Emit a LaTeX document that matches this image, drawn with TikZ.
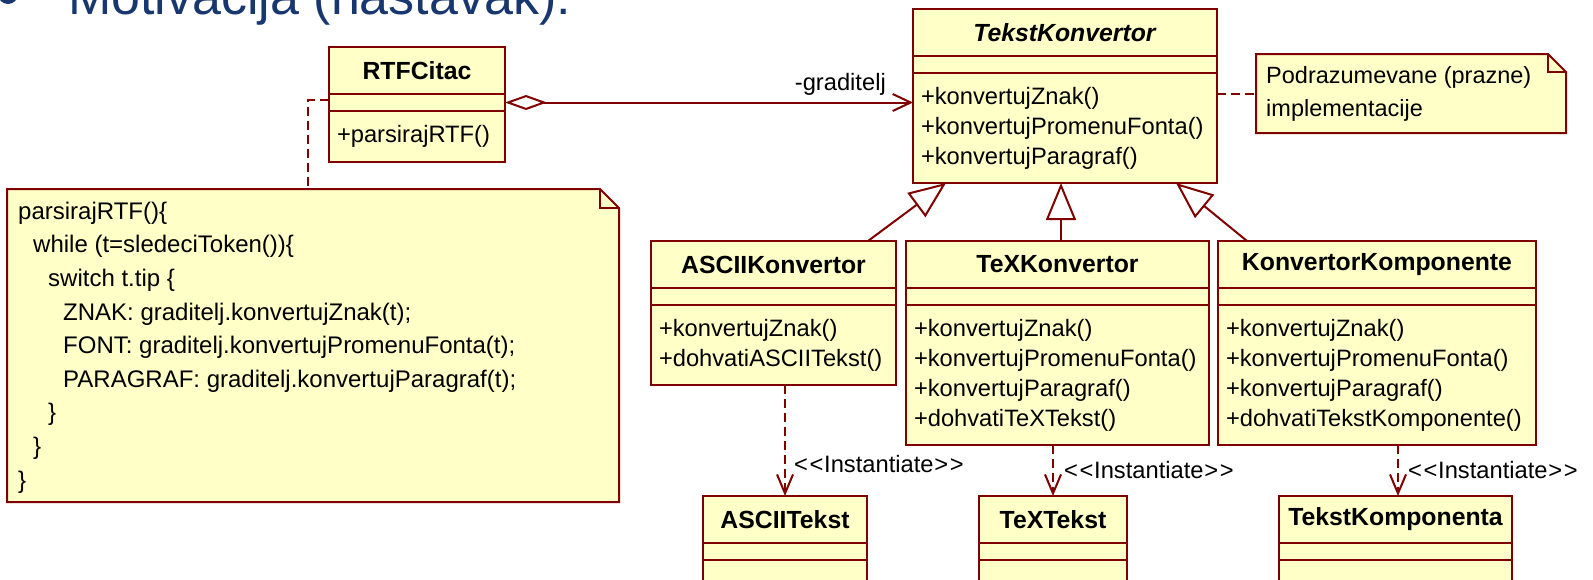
\documentclass[tikz,border=0pt]{standalone}
\usepackage{fontspec}
\setmainfont{Liberation Sans}
\usetikzlibrary{arrows.meta}
\definecolor{umlred}{RGB}{128,0,0}
\definecolor{umlfill}{RGB}{255,255,200}
\definecolor{titleblue}{RGB}{23,55,110}
\newcommand\umllt{\makebox[15.5pt][c]{<}}
\newcommand\umlgt{\makebox[15.5pt][c]{>}}
\tikzset{
  box/.style={draw=umlred, fill=umlfill, line width=2pt, outer sep=0pt, anchor=north west, inner sep=0pt},
  hdr/.style={box, minimum height=47pt, font=\fontsize{24.8}{30}\selectfont\bfseries},
  attr/.style={box, minimum height=17pt},
  meth/.style={box, font=\fontsize{23.7}{30}\selectfont, align=left, inner xsep=8pt, inner ysep=0pt},
  notebg/.style={inner sep=0pt, outer sep=0pt, anchor=north west},
  notetext/.style={align=left, font=\fontsize{24}{33.6}\selectfont},
  noteline/.style={draw=umlred, fill=umlfill, line width=2pt},
  lbl/.style={inner sep=0pt, font=\fontsize{23.7}{30}\selectfont},
  gen/.style={draw=umlred, line width=2pt, -{Triangle[open, length=37pt, width=30pt]}},
  assoc/.style={draw=umlred, line width=2pt, {Diamond[open, length=42pt, width=15pt]}-{Straight Barb[length=18pt, width=17pt]}},
  inst/.style={draw=umlred, line width=2pt, dash pattern=on 9pt off 5pt, -{Straight Barb[length=19pt, width=16pt]}},
  notelink/.style={draw=umlred, line width=2pt, dash pattern=on 9pt off 5pt},
}
\begin{document}
\begin{tikzpicture}[x=1pt,y=-1pt]
\useasboundingbox (0,0) rectangle (1593,579);
\clip (0,0) rectangle (1593,579);

% title (cut off at the top)
\node[circle, fill=titleblue, minimum size=20pt, inner sep=0pt] (bullet) at (8,-6) {};
\node[anchor=base west, inner sep=0pt, font=\fontsize{52}{60}\selectfont, text=titleblue] (title) at (68,14) {Motivacija (nastavak):};

% RTFCitac
\node[hdr, minimum width=176pt] (rc) at (329,47) {RTFCitac};
\node[attr, minimum width=176pt] (rc-a) at (rc.south west) {};
\node[meth, text width=160pt, minimum height=51pt] (rc-m) at (rc-a.south west) {+parsirajRTF()};

% TekstKonvertor
\node[hdr, minimum width=304pt] (tk) at (913,9) {\textit{TekstKonvertor}};
\node[attr, minimum width=304pt] (tk-a) at (tk.south west) {};
\node[meth, text width=288pt, minimum height=110pt] (tk-m) at (tk-a.south west) {+konvertujZnak()\\+konvertujPromenuFonta()\\+konvertujParagraf()};

% ASCIIKonvertor
\node[hdr, minimum width=245pt] (ak) at (651,241) {ASCIIKonvertor};
\node[attr, minimum width=245pt] (ak-a) at (ak.south west) {};
\node[meth, text width=229pt, minimum height=80pt] (ak-m) at (ak-a.south west) {+konvertujZnak()\\+dohvatiASCIITekst()};

% TeXKonvertor
\node[hdr, minimum width=303pt] (tx) at (906,241) {TeXKonvertor};
\node[attr, minimum width=303pt] (tx-a) at (tx.south west) {};
\node[meth, text width=287pt, minimum height=140pt] (tx-m) at (tx-a.south west) {+konvertujZnak()\\+konvertujPromenuFonta()\\+konvertujParagraf()\\+dohvatiTeXTekst()};

% KonvertorKomponente
\node[hdr, minimum width=318pt] (kk) at (1218,241) {KonvertorKomponente};
\node[attr, minimum width=318pt] (kk-a) at (kk.south west) {};
\node[meth, text width=302pt, minimum height=140pt] (kk-m) at (kk-a.south west) {+konvertujZnak()\\+konvertujPromenuFonta()\\+konvertujParagraf()\\+dohvatiTekstKomponente()};

% products
\node[hdr, minimum width=164pt] (at) at (703,496) {ASCIITekst};
\node[attr, minimum width=164pt] (at-a) at (at.south west) {};
\node[attr, minimum width=164pt, minimum height=40pt] (at-m) at (at-a.south west) {};

\node[hdr, minimum width=148pt] (tt) at (979,496) {TeXTekst};
\node[attr, minimum width=148pt] (tt-a) at (tt.south west) {};
\node[attr, minimum width=148pt, minimum height=40pt] (tt-m) at (tt-a.south west) {};

\node[hdr, minimum width=233pt] (kc) at (1279,496) {TekstKomponenta};
\node[attr, minimum width=233pt] (kc-a) at (kc.south west) {};
\node[attr, minimum width=233pt, minimum height=40pt] (kc-m) at (kc-a.south west) {};

% big note
\node[notebg, minimum width=612pt, minimum height=313pt] (n1) at (7,189) {};
\draw[noteline] (n1.north west) -- ([xshift=-19pt]n1.north east) -- ([yshift=-19pt]n1.north east) -- (n1.south east) -- (n1.south west) -- cycle;
\draw[draw=umlred, line width=2pt] ([xshift=-19pt]n1.north east) -- ([xshift=-19pt, yshift=-19pt]n1.north east) -- ([yshift=-19pt]n1.north east);
\node[notetext, anchor=west, inner sep=0pt] (n1-t) at ([xshift=11pt, yshift=-2pt]n1.west) {parsirajRTF()\{\\
\hspace*{15pt}while (t=sledeciToken())\{\\
\hspace*{30pt}switch t.tip \{\\
\hspace*{45pt}ZNAK: graditelj.konvertujZnak(t);\\
\hspace*{45pt}FONT: graditelj.konvertujPromenuFonta(t);\\
\hspace*{45pt}PARAGRAF: graditelj.konvertujParagraf(t);\\
\hspace*{30pt}\}\\
\hspace*{15pt}\}\\
\}};

% small note
\node[notebg, minimum width=310pt, minimum height=79pt] (n2) at (1256,54) {};
\draw[noteline] (n2.north west) -- ([xshift=-18pt]n2.north east) -- ([yshift=-18pt]n2.north east) -- (n2.south east) -- (n2.south west) -- cycle;
\draw[draw=umlred, line width=2pt] ([xshift=-18pt]n2.north east) -- ([xshift=-18pt, yshift=-18pt]n2.north east) -- ([yshift=-18pt]n2.north east);
\node[notetext, anchor=west, inner sep=0pt, font=\fontsize{23.5}{33}\selectfont] (n2-t) at ([xshift=10pt]n2.west) {Podrazumevane (prazne)\\implementacije};

% connectors
\draw[assoc] (rc-a.east) -- (rc-a.east -| tk-m.west);
\node[lbl, anchor=base east] (glab) at (886,90) {-graditelj};

\draw[notelink] ([yshift=3pt]rc-a.west) -| ([xshift=301pt]n1.north west);
\draw[notelink] (tk-m.east |- n2.west) -- (n2.west);

\draw[gen] ([xshift=217pt]ak.north west) -- ([xshift=33pt]tk-m.south west);
\draw[gen] ([xshift=155pt]tx.north west) -- ([xshift=148pt]tk-m.south west);
\draw[gen] ([xshift=29pt]kk.north west) -- ([xshift=263pt]tk-m.south west);

\draw[inst] (at.north |- ak-m.south) -- (at.north);
\draw[inst] (tt.north |- tx-m.south) -- (tt.north);
\draw[inst] ([xshift=119pt]kc.north west |- kk-m.south) -- ([xshift=119pt]kc.north west);

\node[lbl, anchor=west] (i1) at (793,464) {\umllt\umllt Instantiate\umlgt\umlgt};
\node[lbl, anchor=west] (i2) at (1063,470) {\umllt\umllt Instantiate\umlgt\umlgt};
\node[lbl, anchor=west] (i3) at (1407,470) {\umllt\umllt Instantiate\umlgt\umlgt};
\end{tikzpicture}
\end{document}
